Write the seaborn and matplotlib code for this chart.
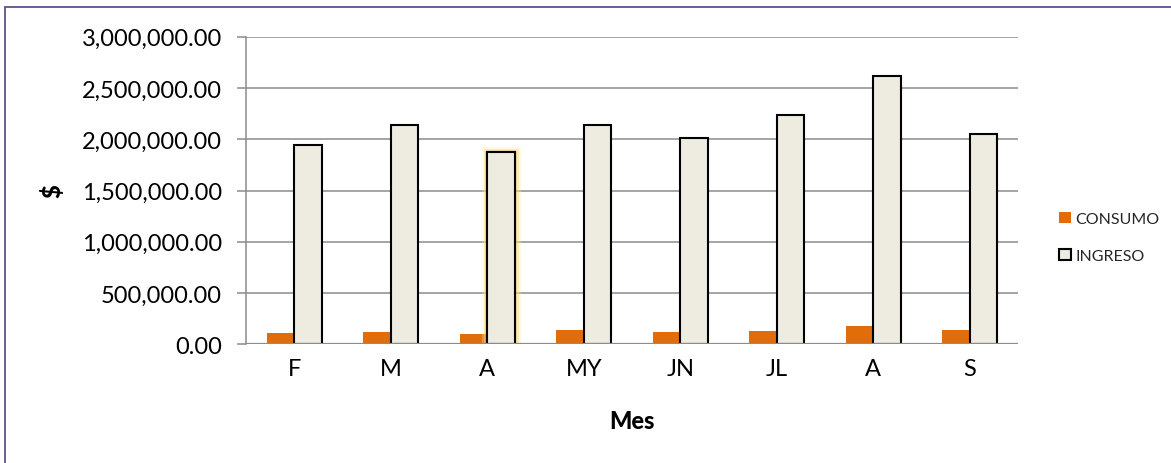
import matplotlib
matplotlib.use("Agg")
import matplotlib.pyplot as plt
import matplotlib.patheffects as pe
from matplotlib.lines import Line2D
from matplotlib.patches import Patch
from matplotlib.ticker import FuncFormatter, MultipleLocator
import numpy as np
import pandas as pd
import seaborn as sns

# Monthly figures
meses = ["F", "M", "A", "MY", "JN", "JL", "A", "S"]
consumo = [110000, 123000, 100000, 140000, 117000, 127000, 181000, 142000]
ingreso = [1945000, 2140000, 1871000, 2134000, 2014000, 2232000, 2612000, 2053000]
series = ["CONSUMO", "INGRESO"]

naranja = "#E36C0A"
crema = "#EEECE1"
gris = "#8C8C8C"

df = pd.DataFrame({
    "pos": list(range(len(meses))) * 2,
    "serie": [series[0]] * len(meses) + [series[1]] * len(meses),
    "valor": consumo + ingreso,
})

sns.set_theme(style="white")
plt.rcParams["font.family"] = ["Lato", "DejaVu Sans"]

fig = plt.figure(figsize=(11.71, 4.64), dpi=100)
ax = fig.add_axes([246 / 1171, 1 - 345.3 / 464, (1018 - 246) / 1171, (345.3 - 37.7) / 464])

sns.barplot(data=df, x="pos", y="valor", hue="serie", hue_order=series,
            palette=[naranja, crema], width=0.57, gap=0, ax=ax,
            legend=False, errorbar=None, saturation=1, zorder=3)

# outline the income bars; soft highlight around the April bar
for cont, serie in zip(ax.containers, series):
    for i, bar in enumerate(cont):
        if serie == "INGRESO":
            bar.set_edgecolor("black")
            bar.set_linewidth(1.5)
            if i == 2:
                bar.set_path_effects([
                    pe.withStroke(linewidth=8, foreground="#FFE9A0", alpha=0.3),
                    pe.withStroke(linewidth=5, foreground="#FFD966", alpha=0.4),
                    pe.Normal(),
                ])
        else:
            bar.set_linewidth(0)

ax.set_xlim(-0.5, len(meses) - 0.5)
ax.set_ylim(0, 3000000)
ax.yaxis.set_major_locator(MultipleLocator(500000))
ax.yaxis.set_major_formatter(FuncFormatter(lambda v, p: f"{v:,.2f}"))
ax.set_xticks(range(len(meses)))
ax.set_xticklabels(meses)

ax.grid(axis="y", color=gris, linewidth=1.1, zorder=0)
ax.set_axisbelow(True)
for s in ["top", "right", "bottom"]:
    ax.spines[s].set_visible(False)
ax.spines["left"].set_color(gris)
ax.spines["left"].set_linewidth(1.1)
ax.axhline(0, color=gris, linewidth=1.6, zorder=4)

ax.tick_params(axis="y", which="major", left=True, length=6.5, width=1.1,
               color=gris, pad=11, labelsize=17, labelcolor="black")
ax.tick_params(axis="x", bottom=False, pad=4, labelsize=17, labelcolor="black")

ax.set_xlabel("Mes", fontsize=17, fontweight="black", color="black")
ax.set_ylabel("$", fontsize=17, fontweight="black", color="black")
ax.xaxis.set_label_coords(0.5, -(422 - 345.3) / 307.6)
ax.xaxis.label.set_va("center")
ax.yaxis.set_label_coords((52 - 246) / 772, 0.5)
ax.yaxis.label.set_va("center")

handles = [Patch(facecolor=naranja, edgecolor=naranja, linewidth=0),
           Patch(facecolor=crema, edgecolor="black", linewidth=1.5)]
fig.legend(handles, series, loc="center left",
           bbox_to_anchor=(1059 / 1171, 1 - 238.5 / 464),
           frameon=False, fontsize=11.5, handlelength=0.72, handleheight=0.72,
           handletextpad=0.3, labelspacing=1.4, borderpad=0, borderaxespad=0)

# outer chart frame (left and top edges)
frame = "#6E5C94"
fig.add_artist(Line2D([5.5 / 1171, 5.5 / 1171], [0, 1 - 8 / 464],
                      color=frame, linewidth=1.4, transform=fig.transFigure))
fig.add_artist(Line2D([5.5 / 1171, 1], [1 - 8 / 464, 1 - 8 / 464],
                      color=frame, linewidth=1.4, transform=fig.transFigure))

fig.savefig("out.png", dpi=100, facecolor="white")
